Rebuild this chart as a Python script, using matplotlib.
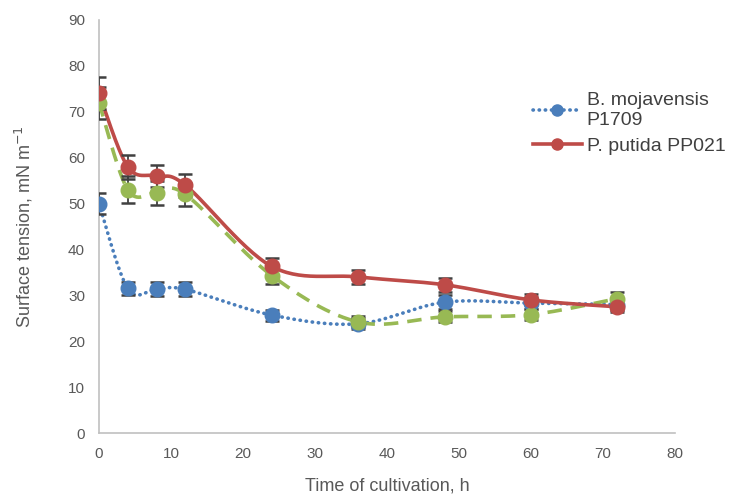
import numpy as np
import matplotlib

matplotlib.use("Agg")
import matplotlib.pyplot as plt
from matplotlib.lines import Line2D

# data
time_h = [0, 4, 8, 12, 24, 36, 48, 60, 72]

mojavensis = [50.0, 31.5, 31.3, 31.3, 25.7, 23.8, 28.5, 28.3, 28.0]
mojavensis_err = [2.3, 1.5, 1.5, 1.5, 1.2, 1.2, 1.5, 1.3, 1.3]

putida = [74.0, 58.0, 56.0, 54.0, 36.3, 34.0, 32.3, 29.0, 27.5]
putida_err = [3.5, 2.6, 2.5, 2.5, 1.8, 1.5, 1.5, 1.2, 1.2]

third = [72.0, 53.0, 52.3, 52.0, 34.3, 24.2, 25.3, 25.8, 29.3]
third_err = [3.5, 2.9, 2.7, 2.5, 1.8, 1.2, 1.2, 1.2, 1.5]

BLUE = "#4a7ebb"
RED = "#be4b48"
GREEN = "#98b954"
GREY = "#595959"
DOTS = (0, (0.1, 1.6))


def smooth(x, y, steps=30):
    # excel style bezier smoothing
    x = np.asarray(x, float)
    y = np.asarray(y, float)
    px = np.concatenate([[x[0]], x, [x[-1]]])
    py = np.concatenate([[y[0]], y, [y[-1]]])
    xs, ys = [], []
    t = np.linspace(0, 1, steps)
    for i in range(1, len(px) - 2):
        p0 = np.array([px[i], py[i]])
        p3 = np.array([px[i + 1], py[i + 1]])
        c1 = p0 + (np.array([px[i + 1], py[i + 1]]) - np.array([px[i - 1], py[i - 1]])) / 6
        c2 = p3 - (np.array([px[i + 2], py[i + 2]]) - np.array([px[i], py[i]])) / 6
        b = ((1 - t) ** 3)[:, None] * p0 + (3 * (1 - t) ** 2 * t)[:, None] * c1 \
            + (3 * (1 - t) * t ** 2)[:, None] * c2 + (t ** 3)[:, None] * p3
        xs.extend(b[:, 0])
        ys.extend(b[:, 1])
    return xs, ys


plt.rcParams["font.family"] = ["Liberation Sans", "DejaVu Sans"]

fig = plt.figure(figsize=(7.42, 4.96), dpi=100)
ax = fig.add_axes([0.1334, 0.127, 0.7763, 0.8327])

series = [
    (mojavensis, mojavensis_err, BLUE, DOTS),
    (third, third_err, GREEN, (0, (4, 2.5))),
    (putida, putida_err, RED, "-"),
]

for vals, err, col, ls in series:
    sx, sy = smooth(time_h, vals)
    ax.plot(sx, sy, color=col, lw=2.6, ls=ls, dash_capstyle="round" if ls is DOTS else "butt",
            zorder=2)

for vals, err, col, ls in series:
    ax.errorbar(time_h, vals, yerr=err, fmt="none", ecolor="#404040",
                elinewidth=1.3, capsize=5, capthick=1.8, zorder=3)
    ax.plot(time_h, vals, "o", color=col, ms=10.5, zorder=4)

ax.set_xlim(0, 80)
ax.set_ylim(0, 90)
ax.set_xticks(range(0, 81, 10))
ax.set_yticks(range(0, 91, 10))
for s in ["top", "right"]:
    ax.spines[s].set_visible(False)
for s in ["left", "bottom"]:
    ax.spines[s].set_color("#c0c0c0")
    ax.spines[s].set_linewidth(1.2)
ax.tick_params(length=0, labelsize=11, colors=GREY, pad=10)
ax.set_xlabel("Time of cultivation, h", fontsize=13, color=GREY, labelpad=12)
ax.set_ylabel("Surface tension, mN m$^{-1}$", fontsize=13, color=GREY, labelpad=24)

handles = [
    Line2D([], [], color=BLUE, lw=2.6, ls=DOTS, dash_capstyle="round", marker="o", ms=8),
    Line2D([], [], color=RED, lw=2.6, marker="o", ms=8),
]
fig.legend(handles, ["B. mojavensis\nP1709", "P. putida PP021"],
           loc="upper left", bbox_to_anchor=(0.695, 0.85), frameon=False,
           fontsize=14, labelcolor="#404040", handlelength=2.5,
           handletextpad=0.25, labelspacing=0.45)

fig.savefig("out.png", dpi=100)
